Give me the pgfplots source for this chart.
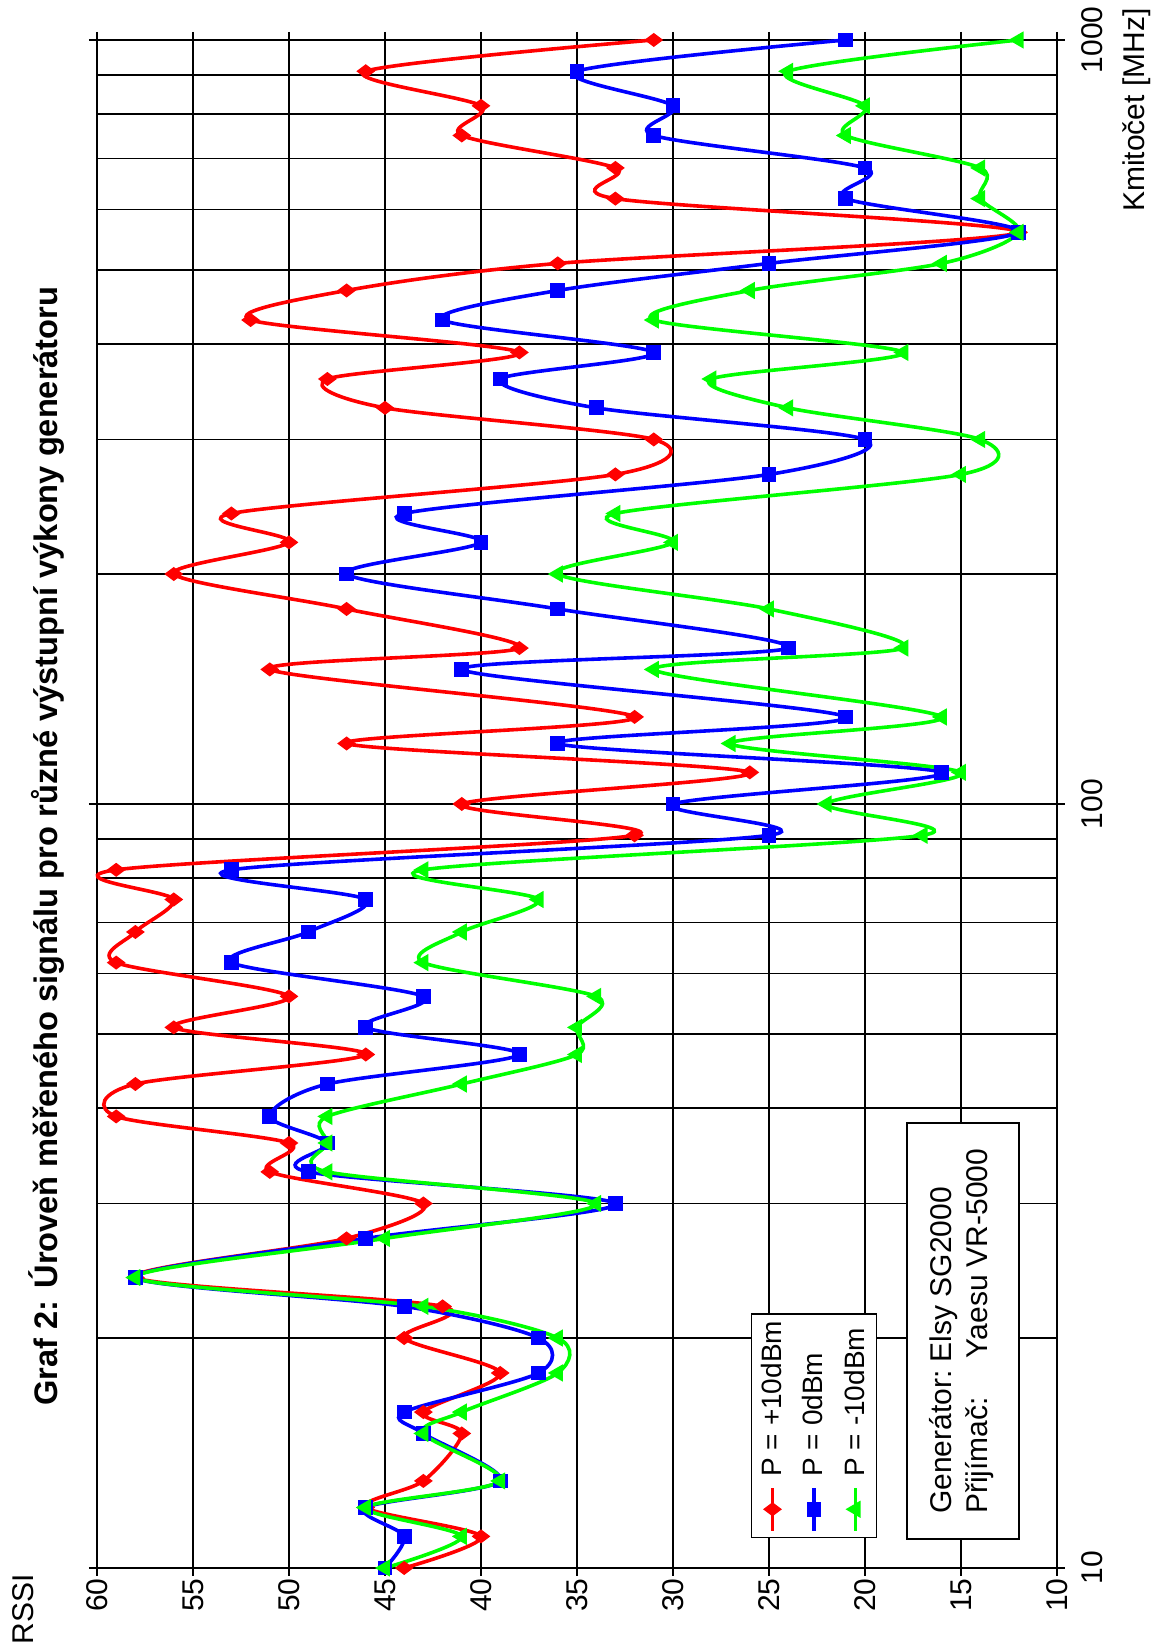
\documentclass[border=0pt]{standalone}
\usepackage{pgfplots}
\pgfplotsset{compat=1.18}
\usepackage{pgfplotstable}
\usepackage{fontspec}
\setmainfont{Liberation Sans}
\definecolor{cR}{RGB}{255,0,0}
\definecolor{cB}{RGB}{0,0,255}
\definecolor{cG}{RGB}{0,255,0}
\pgfplotstableread{
f R B G
10 44 45 45
11 40 44 41
12 46 46 46
13 43 39 39
15 41 43 43
16 43 44 41
18 39 37 36
20 44 37 36
22 42 44 43
24 58 58 58
27 47 46 45
30 43 33 34
33 51 49 48
36 50 48 48
39 59 51 48
43 58 48 41
47 46 38 35
51 56 46 35
56 50 43 34
62 59 53 43
68 58 49 41
75 56 46 37
82 59 53 43
91 32 25 17
100 41 30 22
110 26 16 15
120 47 36 27
130 32 21 16
150 51 41 31
160 38 24 18
180 47 36 25
200 56 47 36
220 50 40 30
240 53 44 33
270 33 25 15
300 31 20 14
330 45 34 24
360 48 39 28
390 38 31 18
430 52 42 31
470 47 36 26
510 36 25 16
560 12 12 12
620 33 21 14
680 33 20 14
750 41 31 21
820 40 30 20
910 46 35 24
1000 31 21 12
}\data
\begin{document}
\begin{tikzpicture}
\useasboundingbox (-48.5pt,-40pt) rectangle (532pt,784pt);
\begin{axis}[
  at={(0pt,0pt)}, anchor=south west,
  scale only axis, width=480pt, height=764pt,
  x dir=reverse, xmin=10, xmax=60,
  ymode=log, ymin=10, ymax=1000,
  xtick={10,15,...,60},
  ytick={10,100,1000}, yticklabels={10,100,1000},
  yticklabel pos=right,
  /pgf/number format/assume math mode=true,
  tick align=outside, major tick length=4pt, minor tick length=0pt,
  xmajorgrids, ymajorgrids, yminorgrids,
  grid style={black, line width=0.75pt},
  minor grid style={black, line width=0.75pt},
  axis line style={black, line width=1pt},
  major tick style={black, line width=0.75pt},
  tick label style={font=\fontsize{15}{18}\selectfont},
  xticklabel style={rotate=90, anchor=east, inner sep=1pt},
  yticklabel style={rotate=90, anchor=north, inner sep=0pt},
  yticklabel shift={8pt},
  clip=false,
  legend columns=3,
  legend image code/.code={%
    \path[draw=none, fill=none] (0pt,-26.5pt) rectangle (0pt,0pt);
    \draw[overlay, mark repeat=2, mark phase=2, #1] plot coordinates {(10.4pt,-5.5pt) (10.4pt,-16pt) (10.4pt,-26.5pt)};
  },
  legend style={at={(axis description cs:0.681,0.0196)}, anchor=south west,
    draw=black, line width=0.75pt, fill=white, font=\fontsize{14}{16}\selectfont,
    inner xsep=0.1pt, inner ysep=3.5pt, column sep=0pt,
    nodes={rotate=90, anchor=west, inner xsep=0pt, inner ysep=0pt, minimum height=20.75pt}},
]
\addplot[cR, line width=1.8pt, smooth, mark=diamond*, mark size=3.2pt, mark options={solid, fill=cR, rotate=90}] table[x=R, y=f] {\data};
\addlegendentry{P = +10dBm}
\addplot[cB, line width=1.8pt, smooth, mark=square*, mark size=2.8pt, mark options={solid, fill=cB}] table[x=B, y=f] {\data};
\addlegendentry{P = 0dBm}
\addplot[cG, line width=1.8pt, smooth, mark=triangle*, mark size=3.2pt, mark options={solid, fill=cG, rotate=90}] table[x=G, y=f] {\data};
\addlegendentry{P = -10dBm}
\end{axis}
\node[rotate=90, anchor=west, inner sep=0pt, font=\bfseries\fontsize{16.3}{19}\selectfont] at (-25pt,81pt) {Graf 2: Úroveň měřeného signálu pro různé výstupní výkony generátoru};
\node[rotate=90, anchor=west, inner sep=0pt, font=\fontsize{15}{18}\selectfont] at (-37pt,-38.5pt) {RSSI};
\node[rotate=90, anchor=east, inner sep=0pt, font=\fontsize{15}{18}\selectfont] at (520pt,780pt) {Kmitočet [MHz]};
\node[rotate=90, anchor=north west, draw=black, line width=0.75pt, fill=white, inner xsep=9pt,
  minimum width=208pt, minimum height=56pt, font=\fontsize{15}{18}\selectfont]
  at (404.5pt,14pt) {\begin{tabular}{@{}l@{\ }l@{}}Generátor: & Elsy SG2000\\ Přijímač: & \hspace{2pt}Yaesu VR-5000\end{tabular}};
\end{tikzpicture}
\end{document}
